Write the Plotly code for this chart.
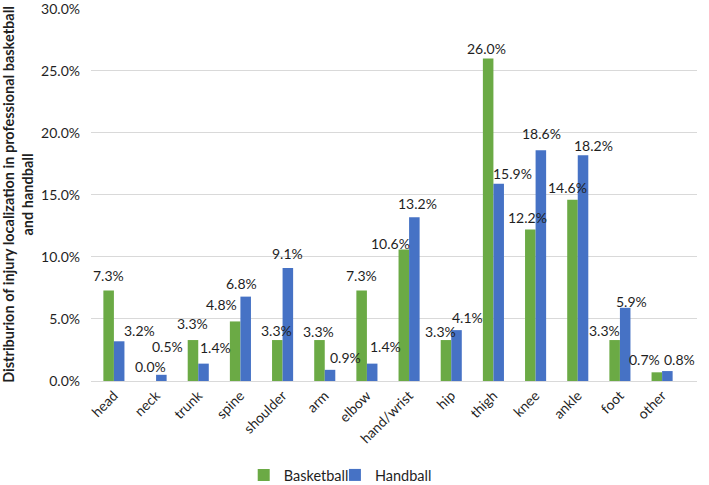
import plotly.graph_objects as go

categories = ["head", "neck", "trunk", "spine", "shoulder", "arm", "elbow", "hand/wrist",
              "hip", "thigh", "knee", "ankle", "foot", "other"]
basketball = [7.3, 0.0, 3.3, 4.8, 3.3, 3.3, 7.3, 10.6, 3.3, 26.0, 12.2, 14.6, 3.3, 0.7]
handball = [3.2, 0.5, 1.4, 6.8, 9.1, 0.9, 1.4, 13.2, 4.1, 15.9, 18.6, 18.2, 5.9, 0.8]
y_ticks = [0, 5, 10, 15, 20, 25, 30]

# hand-placed data label nudges (pixels, relative to bar centre / bar top), as in the reference
basket_label_dx = [0, 0, 0, -13, -1, -1, 0, -13, -5, -2, -3, -5, -10, -12]
basket_label_dy = [15, 15, 17, 17, 10, 9, 15, 6, 9, 10, 12, 12, 10, 13]
hand_label_dx = [20, 6, 12, -4, 0, 15, 13, 3, 11, 14, 0, 10, 6, 12]
hand_label_dy = [11, 28, 16, 13, 15, 12, 17, 14, 13, 10, 17, 10, 6, 12]

FONT = "Lato"
TXT = "#1f1f1f"
W, H = 709, 485
M_L, M_R, M_T, M_B = 91, 12, 8, 104
BARGAP = 0.5
GREEN = "#6BAA45"
BLUE = "#4672C5"

fig = go.Figure()
fig.add_trace(go.Bar(name="Basketball", x=categories, y=[v / 100 for v in basketball],
                     marker=dict(color=GREEN, line=dict(width=0)), legend="legend"))
fig.add_trace(go.Bar(name="Handball", x=categories, y=[v / 100 for v in handball],
                     marker=dict(color=BLUE, line=dict(width=0)), legend="legend2"))

plot_w = W - M_L - M_R
half_bar = plot_w / len(categories) * (1 - BARGAP) / 4

annotations = []
for series, sign, dxs, dys in ((basketball, -1, basket_label_dx, basket_label_dy),
                               (handball, 1, hand_label_dx, hand_label_dy)):
    for cat, v, dx, dy in zip(categories, series, dxs, dys):
        annotations.append(dict(
            x=cat, y=v / 100, xref="x", yref="y", text=f"{v:.1f}%", showarrow=False,
            xanchor="center", yanchor="middle",
            xshift=sign * half_bar + dx, yshift=dy,
            font=dict(family=FONT, size=14, color=TXT),
        ))

legend_common = dict(orientation="h", xanchor="left", y=-0.252, yanchor="middle",
                     font=dict(family=FONT, size=14.5, color=TXT), bgcolor="rgba(0,0,0,0)")

fig.update_layout(
    width=W, height=H,
    margin=dict(l=M_L, r=M_R, t=M_T, b=M_B, autoexpand=False),
    paper_bgcolor="white", plot_bgcolor="white",
    font=dict(family=FONT, size=14, color=TXT),
    barmode="group", bargap=BARGAP, bargroupgap=0,
    showlegend=True,
    annotations=annotations,
    legend=dict(x=0.252, **legend_common),
    legend2=dict(x=0.4025, **legend_common),
    xaxis=dict(tickangle=-45, showgrid=False, showline=True, linecolor="#d9d9d9",
               linewidth=1, ticks="", automargin=False,
               tickfont=dict(family=FONT, size=14, color=TXT)),
    yaxis=dict(range=[0, 0.3006], tickvals=[t / 100 for t in y_ticks], tickformat=".1%",
               showgrid=True, gridcolor="#d9d9d9", gridwidth=1, zeroline=False,
               showline=False, ticks="", ticklabelstandoff=10, ticklabeloverflow="allow",
               automargin=False,
               tickfont=dict(family=FONT, size=14, color=TXT),
               title=dict(text="<b>Distriburion of injury localization in professional basketball<br>and handball</b>",
                          font=dict(family=FONT, size=14.5, color=TXT), standoff=10)),
)

fig.write_html("out.html", config={"displayModeBar": False},
               post_script="document.body.style.margin='0';")
